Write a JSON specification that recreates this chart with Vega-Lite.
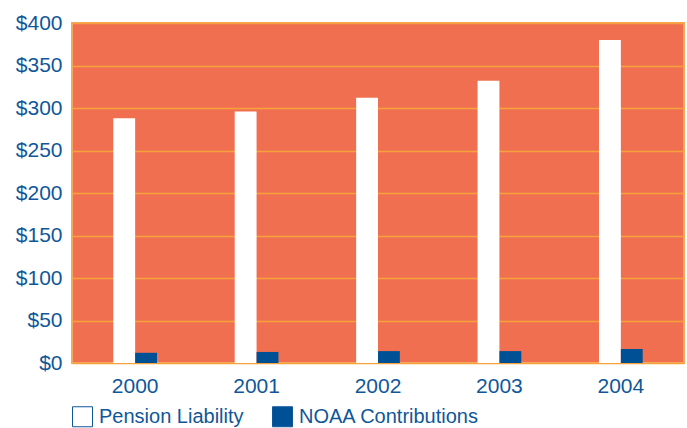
{
  "$schema": "https://vega.github.io/schema/vega-lite/v6.json",
  "autosize": "none",
  "width": 612,
  "height": 340,
  "padding": {"left": 72, "top": 23, "right": 3, "bottom": 65},
  "background": "white",
  "config": {
    "font": "Liberation Sans",
    "view": {"fill": "#F06F50", "stroke": "#F5A860", "strokeWidth": 2},
    "axis": {"labelFont": "Liberation Sans", "labelColor": "#0F5799", "labelFontSize": 21, "ticks": false, "domain": false, "title": null}
  },
  "data": {
    "values": [
      {"year": "2000", "series": "Pension Liability", "value": 288},
      {"year": "2000", "series": "NOAA Contributions", "value": 12},
      {"year": "2001", "series": "Pension Liability", "value": 296},
      {"year": "2001", "series": "NOAA Contributions", "value": 13},
      {"year": "2002", "series": "Pension Liability", "value": 312},
      {"year": "2002", "series": "NOAA Contributions", "value": 14},
      {"year": "2003", "series": "Pension Liability", "value": 332},
      {"year": "2003", "series": "NOAA Contributions", "value": 14},
      {"year": "2004", "series": "Pension Liability", "value": 380},
      {"year": "2004", "series": "NOAA Contributions", "value": 16.5}
    ]
  },
  "mark": {"type": "bar"},
  "encoding": {
    "x": {
      "field": "year", "type": "nominal",
      "scale": {"paddingInner": 0.64, "paddingOuter": 0.34},
      "axis": {"labelAngle": 0, "labelPadding": 12, "grid": false}
    },
    "xOffset": {"field": "series", "type": "nominal", "sort": ["Pension Liability", "NOAA Contributions"], "scale": {"padding": 0}},
    "y": {
      "field": "value", "type": "quantitative",
      "scale": {"domain": [0, 400], "nice": false},
      "axis": {"values": [0, 50, 100, 150, 200, 250, 300, 350, 400], "labelExpr": "'$' + datum.value", "labelPadding": 10, "grid": true, "gridColor": "#F6A23C", "gridWidth": 1.5, "gridOpacity": 1}
    },
    "color": {
      "field": "series", "type": "nominal",
      "sort": ["Pension Liability", "NOAA Contributions"],
      "scale": {"domain": ["Pension Liability", "NOAA Contributions"], "range": ["#FFFFFF", "#005096"]},
      "legend": {
        "title": null, "orient": "none", "direction": "horizontal",
        "legendX": 0, "legendY": 383,
        "symbolType": "square", "symbolSize": 400,
        "symbolStrokeColor": "#0F5799", "symbolStrokeWidth": 1,
        "labelFont": "Liberation Sans", "labelFontSize": 20, "labelColor": "#0F5799",
        "labelLimit": 0, "labelOffset": 6, "columnPadding": 26
      }
    }
  }
}
